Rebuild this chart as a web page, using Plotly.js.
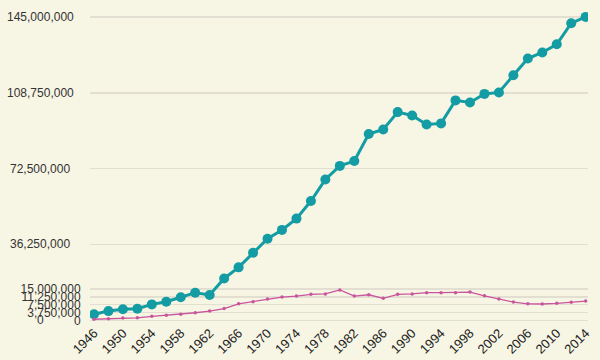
<!DOCTYPE html>
<html>
<head>
<meta charset="utf-8">
<script src="https://cdn.plot.ly/plotly-3.0.1.min.js"></script>
<style>html,body{margin:0;padding:0;background:#f7f5e4;}#chart{width:600px;height:360px;}</style>
</head>
<body>
<div id="chart"></div>
<script>
const years = [1946,1948,1950,1952,1954,1956,1958,1960,1962,1964,1966,1968,1970,1972,1974,1976,1978,1980,1982,1984,1986,1988,1990,1992,1994,1996,1998,2000,2002,2004,2006,2008,2010,2012,2014];
const seriesA = [2.9,4.4,5.3,5.5,7.6,8.9,11.0,13.2,12.1,20.0,25.3,32.3,39.0,43.2,48.6,57.0,67.3,73.8,76.1,89.0,91.2,99.5,97.9,93.6,94.1,105.1,104.1,108.2,108.9,117.1,125.1,128.0,131.9,142.0,145.0].map(v => v*1e6);
const seriesB = [0.5,0.8,1.1,1.2,1.9,2.4,2.9,3.6,4.4,5.6,7.9,8.9,10.2,11.1,11.6,12.4,12.6,14.5,11.6,12.2,10.5,12.4,12.6,13.2,13.2,13.2,13.5,11.7,10.2,8.7,7.9,7.8,8.1,8.6,9.2].map(v => v*1e6);
const yTicksA = [0,36250000,72500000,108750000,145000000];
const yTextA = ["0","36,250,000","72,500,000","108,750,000","145,000,000"];
const yTicksB = [0,3750000,7500000,11250000,15000000];
const yTextB = ["0","3,750,000","7,500,000","11,250,000","15,000,000"];
const xTicks = [1946,1950,1954,1958,1962,1966,1970,1974,1978,1982,1986,1990,1994,1998,2002,2006,2010,2014];

const yRange = [-0.81e6, 148.3e6];
const traces = [
  {x: years, y: seriesA, type: 'scatter', mode: 'lines+markers', yaxis: 'y',
   line: {color: '#139ca3', width: 3}, marker: {color: '#139ca3', size: 10}},
  {x: years, y: seriesB, type: 'scatter', mode: 'lines+markers', yaxis: 'y2',
   line: {color: '#c9559d', width: 1.3}, marker: {color: '#c9559d', size: 3.5}}
];
// left-axis labels are centred in the reference: draw them as annotations on the y scale
const annA = yTicksA.map((v, i) => ({
  xref: 'paper', yref: 'y', x: -0.1004, y: v, text: yTextA[i], showarrow: false,
  xanchor: 'center', yanchor: 'middle', font: {size: 12, color: '#333'}
}));
const layout = {
  width: 600, height: 360,
  paper_bgcolor: '#f7f5e4', plot_bgcolor: '#f7f5e4',
  margin: {l: 90, r: 12, t: 10, b: 38},
  showlegend: false,
  font: {family: 'Liberation Sans, Arial, sans-serif', size: 12, color: '#333'},
  annotations: annA,
  xaxis: {
    range: [1945.45, 2014.32], tickvals: xTicks, ticktext: xTicks.map(String),
    tickangle: -45, showgrid: false, zeroline: false, showline: false,
    ticks: '', tickfont: {size: 13, color: '#222'}
  },
  yaxis: {
    range: yRange, tickvals: yTicksA, showticklabels: false,
    showgrid: true, gridcolor: '#e2dfd2', gridwidth: 1.5, zeroline: false, showline: false
  },
  yaxis2: {
    range: yRange, tickvals: yTicksB, ticktext: yTextB, overlaying: 'y', side: 'left',
    showgrid: true, gridcolor: '#e2dfd2', gridwidth: 1.5, zeroline: false, showline: false,
    ticks: 'outside', ticklen: 6, tickcolor: 'rgba(0,0,0,0)',
    tickfont: {size: 12, color: '#333'}
  }
};
Plotly.newPlot('chart', traces, layout, {displayModeBar: false, staticPlot: true});
</script>
</body>
</html>
